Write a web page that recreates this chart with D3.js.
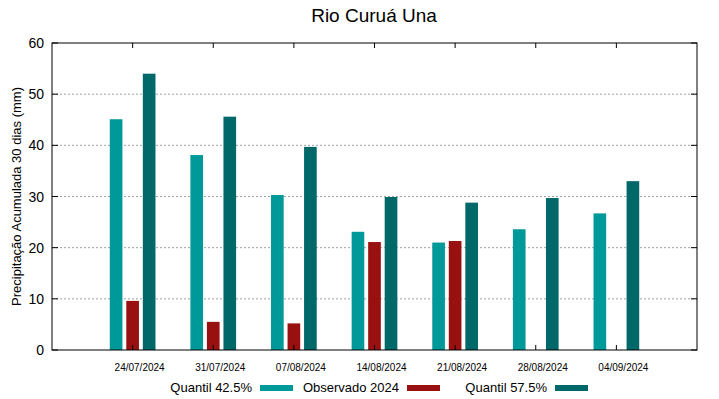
<!DOCTYPE html>
<html>
<meta charset="utf-8">
<script src="https://d3js.org/d3.v7.min.js"></script>
<style>
  body { margin: 0; background: #fff; }
  text { font-family: "Liberation Sans", Arial, sans-serif; fill: #000; }
</style>
<body>
<div id="my_dataviz"></div>
<script>

// data
var dates = ["24/07/2024", "31/07/2024", "07/08/2024", "14/08/2024", "21/08/2024", "28/08/2024", "04/09/2024"];
var quantil425 = [45.1, 38.1, 30.3, 23.1, 21.0, 23.6, 26.7];
var observado = [9.6, 5.5, 5.2, 21.1, 21.3, null, null];
var quantil575 = [54.0, 45.6, 39.7, 29.9, 28.8, 29.7, 33.0];
var yTicks = [0, 10, 20, 30, 40, 50, 60];

var series = [
  {name: "Quantil 42.5%", values: quantil425, color: "#009999", off: -0.205},
  {name: "Observado 2024", values: observado, color: "#991010", off: 0},
  {name: "Quantil 57.5%", values: quantil575, color: "#006868", off: 0.205}
];

var width = 719, height = 399;
var margin = {top: 43, right: 22, bottom: 49, left: 52};
var barW = 0.157;

var svg = d3.select("#my_dataviz")
  .append("svg")
    .attr("width", width)
    .attr("height", height);

var x = d3.scaleLinear()
    .domain([-1, 7])
    .range([margin.left, width - margin.right]);
var y = d3.scaleLinear()
    .domain([0, 60])
    .range([height - margin.bottom, margin.top]);

// dotted grid
svg.append("g")
  .selectAll("line")
  .data(yTicks.filter(function(d) { return d > 0 && d < 60; }))
  .enter().append("line")
    .attr("x1", x(-1)).attr("x2", x(7))
    .attr("y1", function(d) { return y(d); })
    .attr("y2", function(d) { return y(d); })
    .attr("stroke", "#a0a0a0")
    .attr("stroke-width", 1)
    .attr("stroke-dasharray", "2,2");

// bars
series.forEach(function(s) {
  svg.append("g")
    .selectAll("rect")
    .data(s.values.map(function(v, i) { return {v: v, i: i}; }).filter(function(d) { return d.v != null; }))
    .enter().append("rect")
      .attr("x", function(d) { return x(d.i + s.off - barW / 2); })
      .attr("width", x(barW) - x(0))
      .attr("y", function(d) { return y(d.v); })
      .attr("height", function(d) { return y(0) - y(d.v); })
      .attr("fill", s.color);
});

// frame
svg.append("rect")
  .attr("x", x(-1)).attr("y", y(60))
  .attr("width", x(7) - x(-1)).attr("height", y(0) - y(60))
  .attr("fill", "none").attr("stroke", "#000").attr("stroke-width", 1);

// y ticks (both sides) and labels
var yt = svg.append("g");
yTicks.forEach(function(t) {
  yt.append("line").attr("x1", x(-1)).attr("x2", x(-1) + 6)
    .attr("y1", y(t)).attr("y2", y(t)).attr("stroke", "#000");
  yt.append("line").attr("x1", x(7)).attr("x2", x(7) - 6)
    .attr("y1", y(t)).attr("y2", y(t)).attr("stroke", "#000");
  yt.append("text")
    .attr("x", x(-1) - 8).attr("y", y(t) + 5)
    .attr("text-anchor", "end")
    .style("font-size", "14px")
    .text(t);
});

// x ticks (bottom and top) and labels
var xt = svg.append("g");
dates.forEach(function(d, i) {
  xt.append("line").attr("x1", x(i)).attr("x2", x(i))
    .attr("y1", y(0)).attr("y2", y(0) - 5).attr("stroke", "#000");
  xt.append("line").attr("x1", x(i)).attr("x2", x(i))
    .attr("y1", y(60)).attr("y2", y(60) + 5).attr("stroke", "#000");
  xt.append("text")
    .attr("x", x(i) + 7).attr("y", y(0) + 21)
    .attr("text-anchor", "middle")
    .style("font-size", "10px")
    .text(d);
});

// title
svg.append("text")
  .attr("x", 374).attr("y", 22)
  .attr("text-anchor", "middle")
  .style("font-size", "19px")
  .text("Rio Curuá Una");

// y label
svg.append("text")
  .attr("transform", "translate(21," + ((y(0) + y(60)) / 2) + ") rotate(-90)")
  .attr("text-anchor", "middle")
  .style("font-size", "13px")
  .text("Precipitação Acumulada 30 dias (mm)");

// legend
var legX = [252, 399, 547];
series.forEach(function(s, i) {
  svg.append("text")
    .attr("x", legX[i]).attr("y", 392)
    .attr("text-anchor", "end")
    .style("font-size", "13px")
    .text(s.name);
  svg.append("rect")
    .attr("x", legX[i] + 8).attr("y", 385)
    .attr("width", 33).attr("height", 6)
    .attr("fill", s.color);
});

</script>
</body>
</html>
